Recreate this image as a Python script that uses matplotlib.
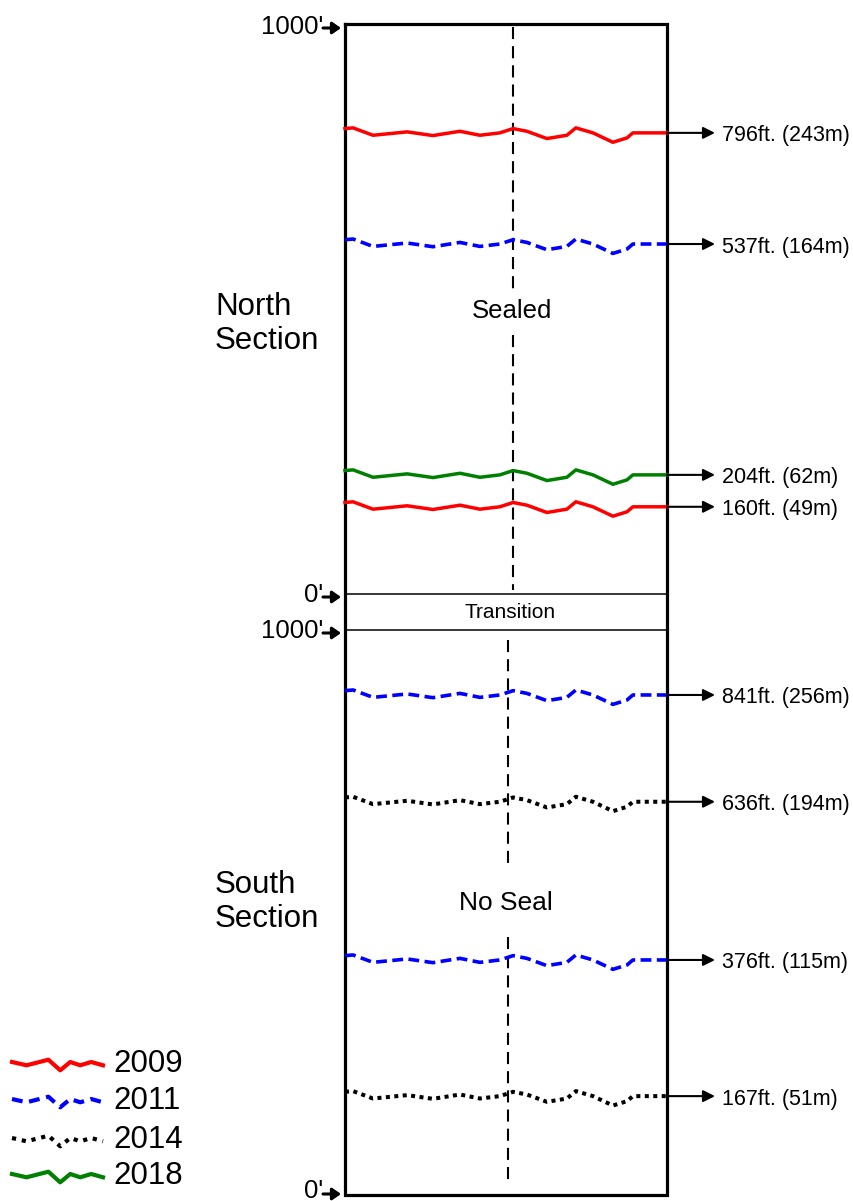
import matplotlib.pyplot as plt

plt.rcParams['font.family'] = ['Liberation Sans', 'DejaVu Sans']

# years shown in the legend
years = ['2009', '2011', '2014', '2018']

# North section: label text, survey year, schematic depth on the 0-1000 ft scale
north_labels = ['796ft. (243m)', '537ft. (164m)', '204ft. (62m)', '160ft. (49m)']
north_years = ['2009', '2011', '2018', '2009']
north_marks = [809, 614, 209, 153]

# South section
south_labels = ['841ft. (256m)', '636ft. (194m)', '376ft. (115m)', '167ft. (51m)']
south_years = ['2011', '2014', '2011', '2014']
south_marks = [885, 696, 416, 175]

# hand drawn wobble of each level line (fraction of width, offset in px)
wave_x = [0, 0.025, 0.087, 0.193, 0.273, 0.357, 0.419, 0.481, 0.522, 0.565,
          0.627, 0.689, 0.717, 0.770, 0.832, 0.876, 0.894, 1.0]
wave_dy = [-4.3, -5, 2.4, -1, 2.7, -1.6, 2.4, 0, -4.3, -1.6,
           5.7, 2.4, -5, 0, 9.4, 5, 0, 0]

legend_wave_x = [0, 0.16, 0.40, 0.53, 0.64, 0.75, 0.87, 1.0]
legend_wave_dy = [0, 3.3, -2.3, 8.3, 0, 3.3, 0, 3.3]

styles = {
    '2009': dict(color='#ff0000', linestyle='-', lw=2.5),
    '2011': dict(color='#0000ff', linestyle=(0, (3.0, 1.5)), lw=2.6),
    '2014': dict(color='black', linestyle=(0, (1, 1.1)), lw=2.9),
    '2018': dict(color='#008000', linestyle='-', lw=2.5),
}

W, H = 854, 1201
box_left, box_right = 345, 667
north_top, north_bottom = 24, 594
south_top, south_bottom = 630, 1195

fig = plt.figure(figsize=(W / 100, H / 100), dpi=100)
base = fig.add_axes([0, 0, 1, 1])
base.set_xlim(0, W)
base.set_ylim(H, 0)
base.axis('off')


def section_axes(top, bottom):
    ax = fig.add_axes([box_left / W, 1 - bottom / H,
                       (box_right - box_left) / W, (bottom - top) / H])
    ax.set_xlim(0, 1)
    ax.set_ylim(0, 1000)
    ax.axis('off')
    return ax


def draw_levels(ax, marks, yrs, labels, px_per_unit):
    for mark, yr, label in zip(marks, yrs, labels):
        ys = [mark - dy / px_per_unit for dy in wave_dy]
        ax.plot(wave_x, ys, clip_on=False, solid_joinstyle='round',
                dash_joinstyle='round', **styles[yr])
        ax.annotate('', xy=(1 + 48 / 322, mark), xytext=(1, mark),
                    annotation_clip=False,
                    arrowprops=dict(arrowstyle='-|>,head_length=0.5,head_width=0.25',
                                    mutation_scale=14, lw=1.5, color='black',
                                    shrinkA=0, shrinkB=0))
        ax.text(1 + 55 / 322, mark - 3 / px_per_unit, label, fontsize=15.5,
                ha='left', va='center', clip_on=False)


def depth_tick(ax, value, text, px_per_unit, text_dy, arrow_dy):
    ax.text(-22 / 322, value - text_dy / px_per_unit, text, fontsize=18.5,
            ha='right', va='center', clip_on=False)
    y = value - arrow_dy / px_per_unit
    ax.annotate('', xy=(-4 / 322, y), xytext=(-22 / 322, y),
                annotation_clip=False,
                arrowprops=dict(arrowstyle='-|>,head_length=0.5,head_width=0.35',
                                mutation_scale=10, lw=2.2, color='black',
                                shrinkA=0, shrinkB=0))


ax_n = section_axes(north_top, north_bottom)
ax_s = section_axes(south_top, south_bottom)
n_scale = (north_bottom - north_top) / 1000
s_scale = (south_bottom - south_top) / 1000

# outer frame and transition band
base.plot([box_left, box_right, box_right, box_left, box_left],
          [north_top, north_top, south_bottom, south_bottom, north_top],
          color='black', lw=2.3, solid_joinstyle='miter')
for y in (north_bottom, south_top):
    base.plot([box_left, box_right], [y, y], color='black', lw=1.1)
base.text(510, 613, 'Transition', fontsize=15, ha='center', va='center')

# centre dashed lines with a gap for the section note
center = dict(color='black', lw=1.5, linestyle=(0, (5.8, 3.4)), clip_on=False)
ax_n.plot([0.522, 0.522], [995, 533], **center)
ax_n.plot([0.522, 0.522], [454, 7], **center)
ax_s.plot([0.506, 0.506], [982, 579], **center)
ax_s.plot([0.506, 0.506], [457, 18], **center)
ax_n.text(0.518, 496, 'Sealed', fontsize=18.5, ha='center', va='center')
ax_s.text(0.5, 517, 'No Seal', fontsize=19, ha='center', va='center')

draw_levels(ax_n, north_marks, north_years, north_labels, n_scale)
draw_levels(ax_s, south_marks, south_years, south_labels, s_scale)

depth_tick(ax_n, 1000, "1000'", n_scale, 3, 4)
depth_tick(ax_n, 0, "0'", n_scale, 1, 3)
depth_tick(ax_s, 1000, "1000'", s_scale, 1, 3)
depth_tick(ax_s, 0, "0'", s_scale, -4, -1)

base.text(215, 324, 'North\nSection', fontsize=22.5, ha='left', va='center',
          linespacing=1.2)
base.text(215, 902, 'South\nSection', fontsize=22.5, ha='left', va='center',
          linespacing=1.2)

# legend drawn by hand with the same wobble
legend_y = [1064, 1101, 1140, 1176]
legend_styles = {
    '2009': dict(color='#ff0000', linestyle='-'),
    '2011': dict(color='#0000ff', linestyle=(0, (2.6, 1.6))),
    '2014': dict(color='black', linestyle=(0, (1, 1.4))),
    '2018': dict(color='#008000', linestyle='-'),
}
for yr, y0 in zip(years, legend_y):
    xs = [12 + f * 91 for f in legend_wave_x]
    ys = [y0 + dy - 2 for dy in legend_wave_dy]
    base.plot(xs, ys, lw=3.0, solid_joinstyle='round', dash_joinstyle='round',
              **legend_styles[yr])
    base.text(113, y0, yr, fontsize=22.5, ha='left', va='center')

fig.savefig('out.png', dpi=100)
